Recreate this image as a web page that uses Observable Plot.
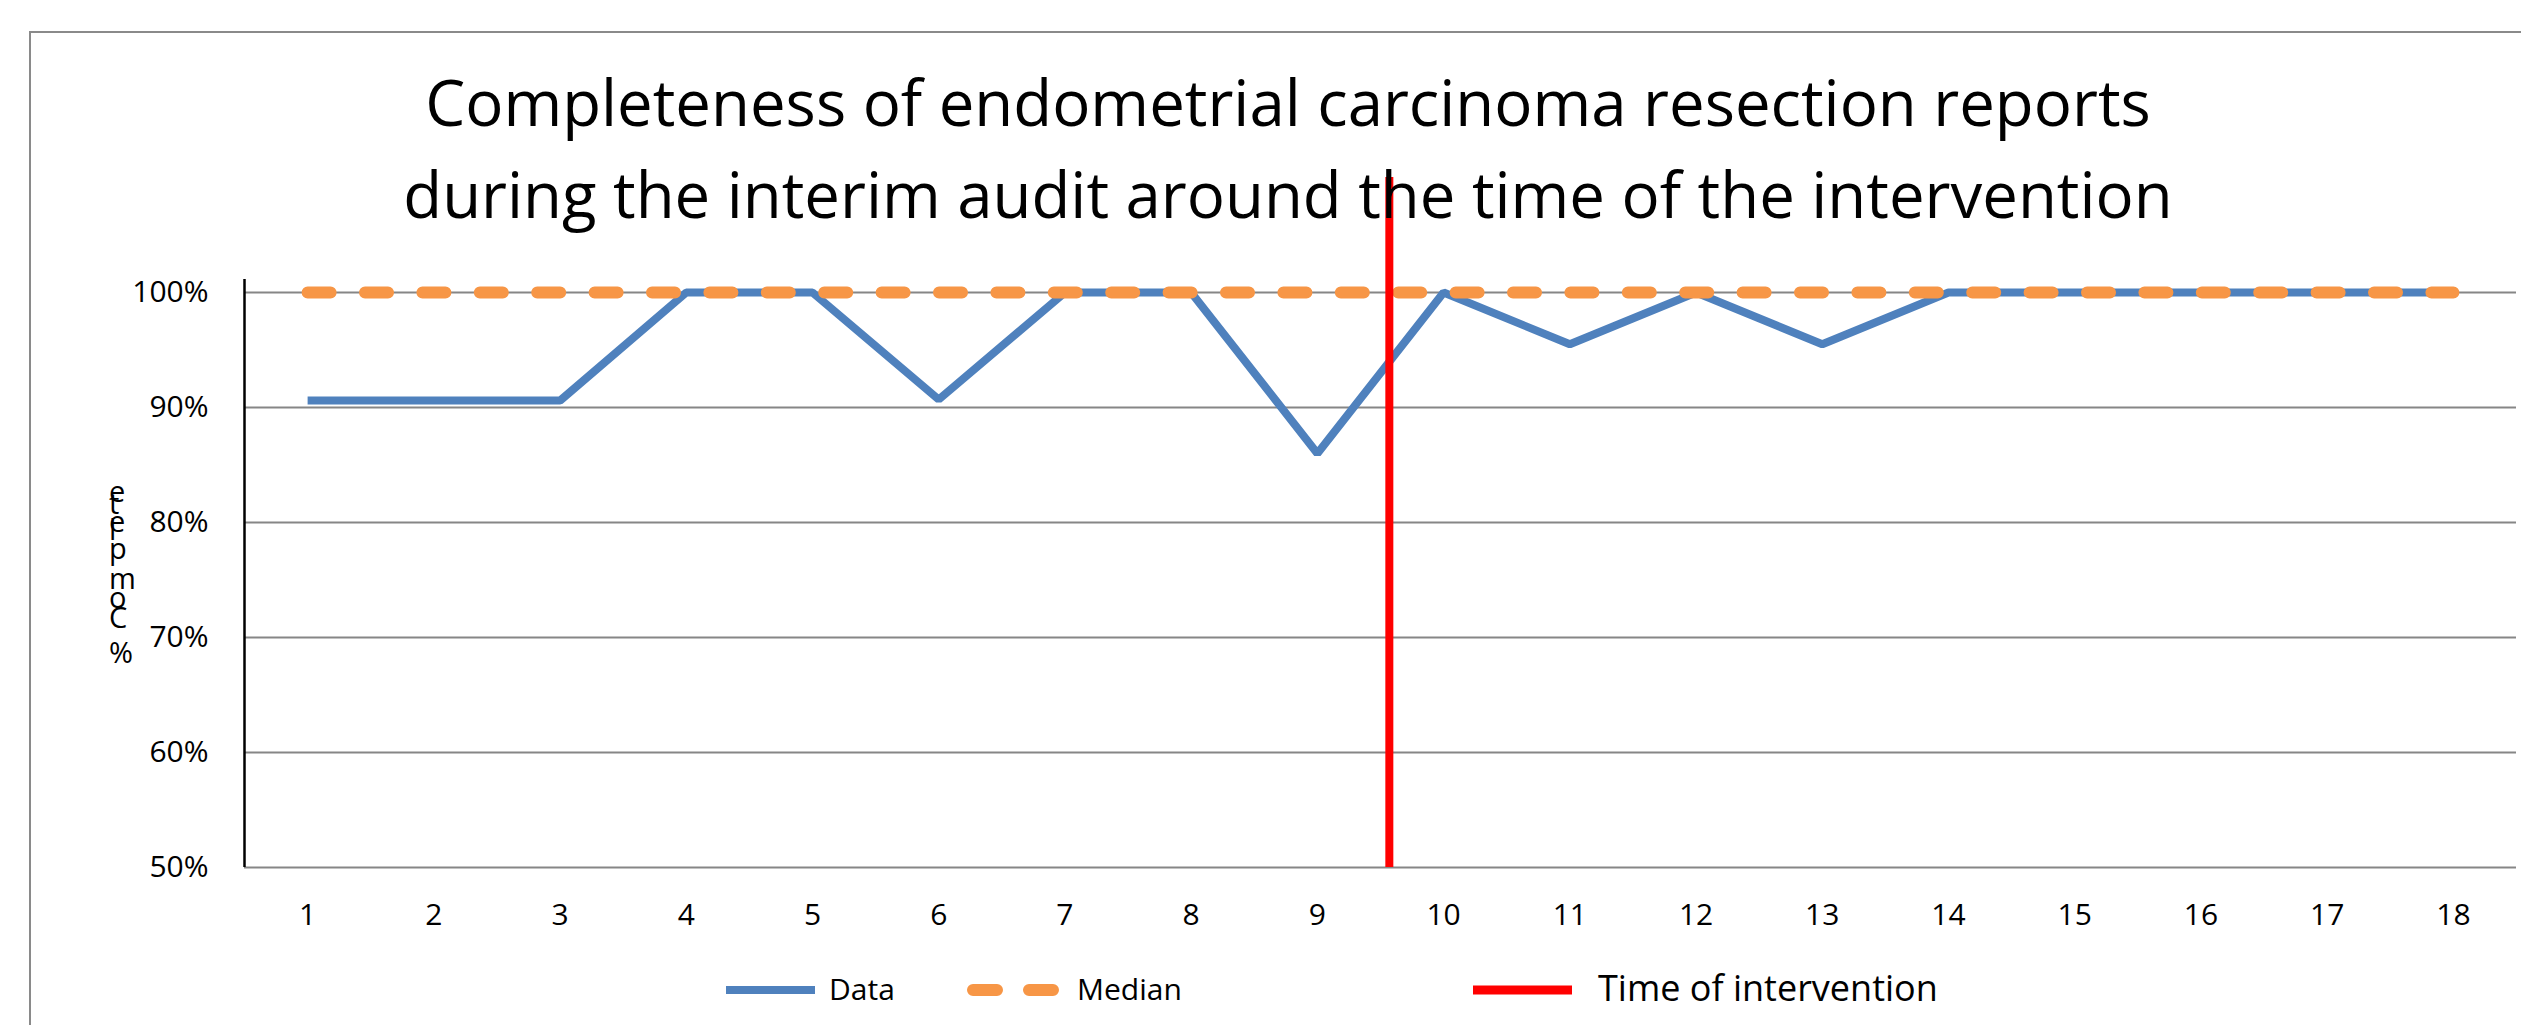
<!DOCTYPE html>
<html>
<head>
<meta charset="utf-8">
<script src="https://cdn.jsdelivr.net/npm/d3@7"></script>
<script src="https://cdn.jsdelivr.net/npm/@observablehq/plot@0.6"></script>
<style>
  html, body { margin: 0; padding: 0; background: #fff; overflow: hidden; }
  #page { position: relative; width: 2521px; height: 1025px; overflow: hidden;
          font-family: "Open Sans", sans-serif; color: #000; background: #fff; }
  #frame { position: absolute; left: 29px; top: 31px; width: 2540px; height: 1060px;
           border: 2px solid #8a8a8a; box-sizing: border-box; }
  .title { position: absolute; left: 0; width: 2576px; text-align: center;
           font-size: 63.5px; line-height: 63.5px; white-space: nowrap; }
  #chart { position: absolute; left: 0; top: 0; }
  #ylabel span { position: absolute; font-size: 29px; line-height: 0; white-space: pre; }
  .leg { position: absolute; white-space: nowrap; line-height: 1; }
</style>
</head>
<body>
<div id="page">
  <div id="frame"></div>
  <div id="chart"></div>
  <div class="title" id="t1" style="top:70px"></div>
  <div class="title" id="t2" style="top:162px"></div>
  <div id="ylabel"></div>
  <div id="legend"></div>
</div>
<script>
// ---------------- data ----------------
const titleLines = [
  "Completeness of endometrial carcinoma resection reports",
  "during the interim audit around the time of the intervention"
];
const yAxisTitle = "% Complete";
const periods = [1, 2, 3, 4, 5, 6, 7, 8, 9, 10, 11, 12, 13, 14, 15, 16, 17, 18];
const completeness = [0.906, 0.906, 0.906, 1.0, 1.0, 0.907, 1.0, 1.0, 0.86,
                      1.0, 0.955, 1.0, 0.955, 1.0, 1.0, 1.0, 1.0, 1.0];
const medianValues = [1, 1, 1, 1, 1, 1, 1, 1, 1, 1, 1, 1, 1, 1, 1, 1, 1, 1];
const yTicks = [0.5, 0.6, 0.7, 0.8, 0.9, 1.0];
const intervention = [{period: 9.57, from: 0.5, to: 1.10}];
const legendItems = ["Data", "Median", "Time of intervention"];

const dataRows = periods.map((p, i) => ({period: p, value: completeness[i]}));
const medianRows = periods.map((p, i) => ({period: p, value: medianValues[i]}));

// ---------------- chart ----------------
const W = 2521, H = 960;
const pct = d3.format(".0%");
const chart = Plot.plot({
  width: W,
  height: H,
  marginLeft: 244,
  marginRight: 5,
  marginTop: 292,
  marginBottom: H - 867,
  style: {fontFamily: "'Open Sans', sans-serif", fontSize: "30px", color: "#000",
          background: "transparent", overflow: "visible"},
  x: {type: "linear", domain: [0.5, 18.5], label: null},
  y: {type: "linear", domain: [0.5, 1.0], label: null},
  marks: [
    Plot.gridY(yTicks, {stroke: "#868686", strokeOpacity: 1, strokeWidth: 2}),
    Plot.axisY(yTicks, {tickSize: 0, tickPadding: 36, tickFormat: pct, label: null, fill: "#000"}),
    Plot.axisX(periods, {tickSize: 0, tickPadding: 36, tickFormat: d => String(d), label: null, fill: "#000"}),
    Plot.ruleX([0.5], {y1: 1.0, y2: 0.5, stroke: "#000", strokeWidth: 2.5, insetTop: -13}),
    Plot.line(dataRows, {x: "period", y: "value", stroke: "#4F81BD", strokeWidth: 8,
                         strokeLinejoin: "miter", strokeLinecap: "butt"}),
    Plot.line(medianRows, {x: "period", y: "value", stroke: "#F79646", strokeWidth: 12,
                           strokeDasharray: "23,34.4", strokeLinecap: "round"}),
    Plot.ruleX(intervention, {x: "period", y1: "from", y2: "to", stroke: "#FF0000", strokeWidth: 8})
  ]
});
document.getElementById("chart").appendChild(chart);

// ---------------- title ----------------
document.getElementById("t1").textContent = titleLines[0];
document.getElementById("t2").textContent = titleLines[1];

// ---------------- stacked y-axis title (glyphs stacked by advance width) ----------------
(function () {
  const fontSize = 29;
  const advanceScale = 1.1;
  const ctx = document.createElement("canvas").getContext("2d");
  ctx.font = `${fontSize}px "Open Sans"`;
  const holder = document.getElementById("ylabel");
  let baseline = 662;
  for (const ch of yAxisTitle) {
    const s = document.createElement("span");
    s.textContent = ch;
    s.style.left = "109px";
    s.style.top = (baseline - fontSize * 0.36) + "px";
    holder.appendChild(s);
    baseline -= ctx.measureText(ch).width * advanceScale;
  }
})();

// ---------------- legend ----------------
(function () {
  const lg = document.getElementById("legend");
  const cy = 990;
  function sw(x0, x1, color, width, dash, cap) {
    const w = x1 - x0 + 20;
    const svg = d3.create("svg").attr("width", w).attr("height", 30)
      .style("position", "absolute").style("left", (x0 - 10) + "px").style("top", (cy - 15) + "px");
    svg.append("line").attr("x1", 10).attr("x2", w - 10).attr("y1", 15).attr("y2", 15)
      .attr("stroke", color).attr("stroke-width", width)
      .attr("stroke-dasharray", dash || null).attr("stroke-linecap", cap || "butt");
    lg.appendChild(svg.node());
  }
  function label(x, text, size) {
    const d = document.createElement("div");
    d.className = "leg";
    d.textContent = text;
    d.style.left = x + "px";
    d.style.fontSize = size + "px";
    d.style.top = (cy - size * 0.55) + "px";
    lg.appendChild(d);
  }
  sw(726, 815, "#4F81BD", 8);
  label(829, legendItems[0], 30);
  sw(973, 1055, "#F79646", 12, "24,32", "round");
  label(1077, legendItems[1], 30);
  sw(1473, 1572, "#FF0000", 9);
  label(1598, legendItems[2], 36);
})();
</script>
</body>
</html>
